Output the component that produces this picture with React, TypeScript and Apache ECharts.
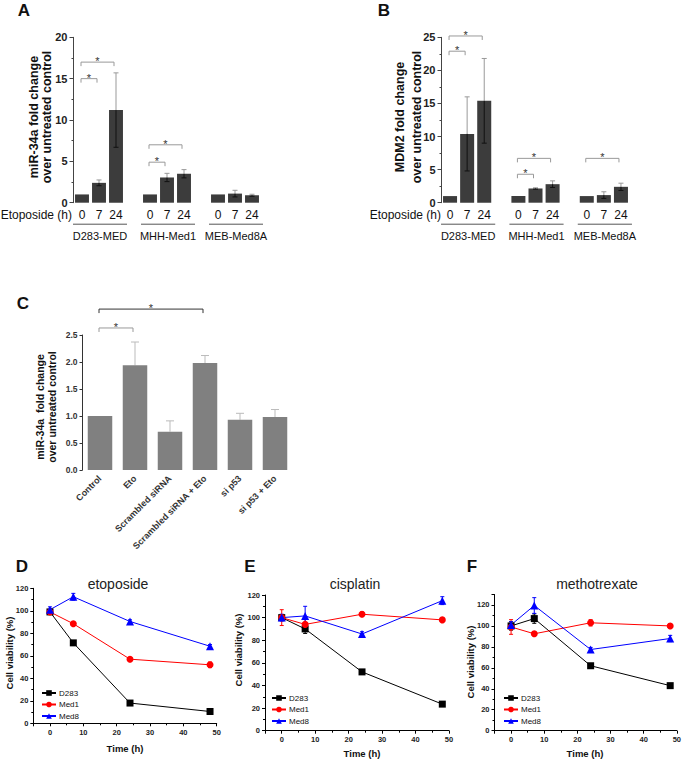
import React, { useEffect, useRef } from "react";
import * as echarts from "echarts";

const FONT = "'Liberation Sans', Arial, Helvetica, sans-serif";

// ---------- Panels A / B ----------
const cellLines = ["D283-MED", "MHH-Med1", "MEB-Med8A"];
const etoTimes = ["0", "7", "24"];
const mir34aFold = [1, 2.4, 11.2, 1, 3.05, 3.5, 1, 1.1, 0.9];
const mir34aErr = [0, 0.35, 4.5, 0, 0.5, 0.5, 0, 0.4, 0.12];
const mdm2Fold = [1, 10.4, 15.4, 1, 2.15, 2.8, 1, 1.15, 2.4];
const mdm2Err = [0, 5.6, 6.4, 0, 0.1, 0.5, 0, 0.5, 0.55];
// significance brackets: [from bar, to bar, level]
const mir34aSig = [[0, 1, 15], [0, 2, 17], [3, 4, 4.9], [3, 5, 7]];
const mdm2Sig = [[0, 1, 22.9], [0, 2, 25.2], [3, 4, 4.3], [3, 5, 6.7], [6, 8, 6.7]];

// ---------- Panel C ----------
const siCategories = ["Control", "Eto", "Scrambled siRNA", "Scrambled siRNA + Eto", "si p53", "si p53 + Eto"];
const siFold = [1.0, 1.94, 0.71, 1.98, 0.93, 0.98];
const siErr = [0, 0.43, 0.2, 0.14, 0.12, 0.14];
const siSig = [[0, 1, 2.63], [0, 3, 2.98]];

// ---------- Panels D / E / F ----------
const timeH = [0, 7, 24, 48];
const lineNames = ["D283", "Med1", "Med8"];
const drugTitles = ["etoposide", "cisplatin", "methotrexate"];
const etoD283 = [99, 71.5, 18, 10.5];
const etoD283Err = [2, 2, 1.5, 1.5];
const etoMed1 = [99, 88.5, 57, 52];
const etoMed1Err = [2, 1.5, 1.5, 2.5];
const etoMed8 = [101, 112.5, 90.5, 68.5];
const etoMed8Err = [2.5, 3, 1.5, 1.5];
const cisD283 = [100, 90, 52, 23.5];
const cisD283Err = [2, 4, 1.5, 1.5];
const cisMed1 = [100, 94, 103, 98];
const cisMed1Err = [7, 5, 2, 1.5];
const cisMed8 = [100, 101.5, 85.5, 115];
const cisMed8Err = [3, 8.5, 2, 3.5];
const mtxD283 = [100, 107, 62, 43];
const mtxD283Err = [4, 4.5, 1.5, 1.5];
const mtxMed1 = [99, 92.5, 103, 100];
const mtxMed1Err = [7, 2, 3, 2];
const mtxMed8 = [101, 119.5, 77.5, 88];
const mtxMed8Err = [3, 7.5, 2, 3];

const viability = [
  [etoD283, etoMed1, etoMed8],
  [cisD283, cisMed1, cisMed8],
  [mtxD283, mtxMed1, mtxMed8],
];
const viabilityErr = [
  [etoD283Err, etoMed1Err, etoMed8Err],
  [cisD283Err, cisMed1Err, cisMed8Err],
  [mtxD283Err, mtxMed1Err, mtxMed8Err],
];
const lineColors = ["#000000", "#ff0000", "#0000ff"];
const lineSymbols = ["rect", "circle", "triangle"];
const lineSymbolSizes = [7, 7, 8];

// bar index (0..8) -> category slot (with gap slots between groups)
const slotOf = (i: number) => i + Math.floor(i / 3);
const slotCats: string[] = [];
cellLines.forEach((g, gi) => {
  etoTimes.forEach((t) => slotCats.push(`${g}|${t}`));
  if (gi < cellLines.length - 1) slotCats.push(`gap${gi}`);
});
const toSlots = (vals: number[]) => {
  const out: any[] = slotCats.map(() => "-");
  vals.forEach((v, i) => (out[slotOf(i)] = v));
  return out;
};

function errBarRender(upper: string, lower: string, cap: number, drawLower: boolean) {
  return (params: any, api: any) => {
    const x = api.value(0);
    const v = api.value(1);
    const e = api.value(2);
    if (!e) return { type: "group", children: [] };
    const pTop = api.coord([x, v + e]);
    const pMid = api.coord([x, v]);
    const pBot = api.coord([x, v - e]);
    const children: any[] = [
      { type: "line", shape: { x1: pMid[0], y1: pMid[1], x2: pTop[0], y2: pTop[1] }, style: { stroke: upper, lineWidth: 1 } },
      { type: "line", shape: { x1: pTop[0] - cap, y1: pTop[1], x2: pTop[0] + cap, y2: pTop[1] }, style: { stroke: upper, lineWidth: 1 } },
    ];
    if (drawLower) {
      children.push(
        { type: "line", shape: { x1: pMid[0], y1: pMid[1], x2: pBot[0], y2: pBot[1] }, style: { stroke: lower, lineWidth: 1 } },
        { type: "line", shape: { x1: pBot[0] - cap, y1: pBot[1], x2: pBot[0] + cap, y2: pBot[1] }, style: { stroke: lower, lineWidth: 1 } }
      );
    }
    return { type: "group", children };
  };
}

function sigRender(colors: string[], starSize: number) {
  return (params: any, api: any) => {
    const a = api.coord([api.value(0), api.value(2)]);
    const b = api.coord([api.value(1), api.value(2)]);
    const x1 = a[0] - 1;
    const x2 = b[0] - 2;
    const y = a[1];
    const col = colors[params.dataIndex] || colors[0];
    return {
      type: "group",
      children: [
        { type: "polyline", shape: { points: [[x1, y + 4], [x1, y], [x2, y], [x2, y + 4]] }, style: { stroke: col, lineWidth: 1, fill: "none" } },
        {
          type: "text",
          style: {
            text: "*", x: (x1 + x2) / 2, y: y - 1, fill: "#333",
            font: `${starSize}px ${FONT}`, align: "center", verticalAlign: "middle",
          },
        },
      ],
    };
  };
}

function groupLabelRender(params: any, api: any) {
  const a = api.coord([api.value(0), 0]);
  const b = api.coord([api.value(1), 0]);
  const x1 = a[0] - 9;
  const x2 = b[0] + 11;
  const y = a[1] + 21.5;
  return {
    type: "group",
    children: [
      { type: "line", shape: { x1, y1: y, x2, y2: y }, style: { stroke: "#555", lineWidth: 1 } },
      {
        type: "text",
        style: {
          text: cellLines[api.value(2)], x: (x1 + x2) / 2, y: y + 12, fill: "#111",
          font: `11px ${FONT}`, align: "center", verticalAlign: "middle",
        },
      },
    ],
  };
}

const groupLabelData = cellLines.map((g, gi) => [slotOf(gi * 3), slotOf(gi * 3 + 2), gi]);

function makeOption() {
  const grids = [
    { left: 73.5, top: 37.3, width: 187, height: 165.4 },
    { left: 441.5, top: 37.3, width: 188, height: 165.4 },
    { left: 82.5, top: 335, width: 210, height: 135 },
    { left: 33.3, top: 588.3, width: 183.4, height: 135 },
    { left: 265, top: 595, width: 184, height: 135.7 },
    { left: 494.5, top: 594.5, width: 183.2, height: 136.2 },
  ];

  const abX = (gi: number) => ({
    gridIndex: gi,
    type: "category",
    data: slotCats,
    axisLine: { show: false },
    axisTick: { show: false },
    axisLabel: {
      interval: 0,
      margin: 6,
      fontFamily: FONT,
      fontSize: 12,
      color: "#111",
      formatter: (v: string) => (v.includes("|") ? v.split("|")[1] : ""),
    },
  });
  const abY = (gi: number, max: number) => ({
    gridIndex: gi,
    type: "value",
    min: 0,
    max,
    interval: 5,
    axisLine: { show: true, onZero: false, lineStyle: { color: "#444" } },
    axisTick: { show: true, length: 4, lineStyle: { color: "#444" } },
    minorTick: { show: true, splitNumber: 2, length: 2, lineStyle: { color: "#444" } },
    splitLine: { show: false },
    axisLabel: { fontFamily: FONT, fontWeight: "bold", fontSize: 11, color: "#222", margin: 6 },
  });

  const xAxis: any[] = [abX(0), abX(1)];
  const yAxis: any[] = [abY(0, 20), abY(1, 25)];

  xAxis.push({
    gridIndex: 2,
    type: "category",
    data: siCategories,
    axisLine: { show: false },
    axisTick: { show: false },
    axisLabel: { interval: 0, rotate: 45, margin: 7, fontFamily: FONT, fontWeight: "bold", fontSize: 9, color: "#333" },
  });
  yAxis.push({
    gridIndex: 2,
    type: "value",
    min: 0,
    max: 2.5,
    interval: 0.5,
    axisLine: { show: true, onZero: false, lineStyle: { color: "#333" } },
    axisTick: { show: true, length: 3, lineStyle: { color: "#333" } },
    splitLine: { show: false },
    axisLabel: { fontFamily: FONT, fontWeight: "bold", fontSize: 8.5, color: "#333", margin: 5, formatter: (v: number) => v.toFixed(1) },
  });

  for (let p = 0; p < 3; p++) {
    const gi = 3 + p;
    const yMax = p === 2 ? 130 : 120;
    xAxis.push({
      gridIndex: gi,
      type: "value",
      min: -5,
      max: 50,
      splitNumber: 5,
      axisLine: { show: true, onZero: false, lineStyle: { color: "#000" } },
      axisTick: { show: true, length: 3, lineStyle: { color: "#000" } },
      minorTick: { show: true, splitNumber: 2, length: 2, lineStyle: { color: "#000" } },
      splitLine: { show: false },
      axisLabel: {
        fontFamily: FONT, fontWeight: "bold", fontSize: 7.5, color: "#222", margin: 5,
        formatter: (v: number) => (v < 0 ? "" : String(v)),
      },
    });
    yAxis.push({
      gridIndex: gi,
      type: "value",
      min: 0,
      max: yMax,
      interval: 20,
      axisLine: { show: true, onZero: false, lineStyle: { color: "#000" } },
      axisTick: { show: true, length: 3, lineStyle: { color: "#000" } },
      minorTick: { show: true, splitNumber: 2, length: 2, lineStyle: { color: "#000" } },
      splitLine: { show: false },
      axisLabel: {
        fontFamily: FONT, fontWeight: "bold", fontSize: 7.5, color: "#222", margin: 5,
        formatter: (v: number) => (v > 120 ? "" : String(v)),
      },
    });
  }

  const series: any[] = [];
  // A & B
  const abSets = [
    { vals: mir34aFold, errs: mir34aErr, sig: mir34aSig },
    { vals: mdm2Fold, errs: mdm2Err, sig: mdm2Sig },
  ];
  abSets.forEach((s, gi) => {
    series.push({
      type: "bar",
      name: gi === 0 ? "miR-34a" : "MDM2",
      xAxisIndex: gi,
      yAxisIndex: gi,
      data: toSlots(s.vals),
      barCategoryGap: "18%",
      itemStyle: { color: "#3c3c3c" },
      z: 2,
    });
    series.push({
      type: "custom",
      name: "err" + gi,
      xAxisIndex: gi,
      yAxisIndex: gi,
      clip: false,
      z: 3,
      encode: { x: 0, y: 1 },
      data: s.vals.map((v, i) => [slotOf(i), v, s.errs[i]]),
      renderItem: errBarRender("#999", "#111", 2.5, true),
    });
    series.push({
      type: "custom",
      name: "sig" + gi,
      xAxisIndex: gi,
      yAxisIndex: gi,
      clip: false,
      z: 3,
      encode: { x: [0, 1], y: 2 },
      data: s.sig.map((d) => [slotOf(d[0]), slotOf(d[1]), d[2]]),
      renderItem: sigRender(["#999"], 11),
    });
    series.push({
      type: "custom",
      name: "groups" + gi,
      xAxisIndex: gi,
      yAxisIndex: gi,
      clip: false,
      z: 3,
      encode: { x: [0, 1] },
      data: groupLabelData,
      renderItem: groupLabelRender,
    });
  });

  // C
  series.push({
    type: "bar",
    name: "siRNA",
    xAxisIndex: 2,
    yAxisIndex: 2,
    data: siFold,
    barCategoryGap: "30%",
    itemStyle: { color: "#808080" },
    z: 2,
  });
  series.push({
    type: "custom",
    name: "errC",
    xAxisIndex: 2,
    yAxisIndex: 2,
    clip: false,
    z: 1,
    encode: { x: 0, y: 1 },
    data: siFold.map((v, i) => [i, v, siErr[i]]),
    renderItem: errBarRender("#bbb", "#bbb", 4, false),
  });
  series.push({
    type: "custom",
    name: "sigC",
    xAxisIndex: 2,
    yAxisIndex: 2,
    clip: false,
    z: 3,
    encode: { x: [0, 1], y: 2 },
    data: siSig,
    renderItem: sigRender(["#999", "#333"], 11),
  });

  // D-F
  for (let p = 0; p < 3; p++) {
    const gi = 3 + p;
    for (let k = 0; k < 3; k++) {
      series.push({
        type: "custom",
        name: "err" + lineNames[k],
        xAxisIndex: gi,
        yAxisIndex: gi,
        clip: false,
        z: 2,
        encode: { x: 0, y: 1 },
        data: timeH.map((t, i) => [t, viability[p][k][i], viabilityErr[p][k][i]]),
        renderItem: errBarRender(lineColors[k], lineColors[k], 2, true),
      });
      series.push({
        type: "line",
        name: lineNames[k],
        xAxisIndex: gi,
        yAxisIndex: gi,
        z: 3,
        data: timeH.map((t, i) => [t, viability[p][k][i]]),
        symbol: lineSymbols[k],
        symbolSize: lineSymbolSizes[k],
        showSymbol: true,
        itemStyle: { color: lineColors[k] },
        lineStyle: { color: lineColors[k], width: 1 },
      });
    }
  }

  const legendPos = [
    { left: 41, top: 688 },
    { left: 271, top: 693 },
    { left: 503, top: 693 },
  ];
  const legend = legendPos.map((pos) => ({
    orient: "vertical",
    left: pos.left,
    top: pos.top,
    padding: 0,
    itemWidth: 14,
    itemHeight: 7,
    itemGap: 1.5,
    selectedMode: false,
    data: lineNames,
    textStyle: { fontFamily: FONT, fontSize: 8, color: "#111", lineHeight: 10, padding: [0, 0, 0, -2] },
  }));

  const txt = (text: string, x: number, y: number, font: string, extra: any = {}) => ({
    type: "text",
    x,
    y,
    rotation: extra.rotation || 0,
    style: {
      text,
      font,
      fill: extra.fill || "#111",
      textAlign: extra.align || "center",
      textVerticalAlign: "middle",
      lineHeight: extra.lineHeight,
    },
  });
  const R = Math.PI / 2;
  const graphic: any[] = [
    txt("A", 24, 10, `bold 17px ${FONT}`),
    txt("B", 384, 10, `bold 17px ${FONT}`),
    txt("C", 23, 303, `bold 17px ${FONT}`),
    txt("D", 22, 566, `bold 17px ${FONT}`),
    txt("E", 250, 566, `bold 17px ${FONT}`),
    txt("F", 472, 566, `bold 17px ${FONT}`),
    txt("miR-34a fold change\nover untreated control", 40, 117, `bold 12.5px ${FONT}`, { rotation: R, lineHeight: 13 }),
    txt("MDM2 fold change\nover untreated control", 408, 117, `bold 12.5px ${FONT}`, { rotation: R, lineHeight: 17 }),
    txt("miR-34a  fold change\nover untreated control", 45.5, 407, `bold 10.5px ${FONT}`, { rotation: R, lineHeight: 12 }),
    txt("Etoposide (h)", 72, 214.5, `12px ${FONT}`, { align: "right" }),
    txt("Etoposide (h)", 441, 214.5, `12px ${FONT}`, { align: "right" }),
    txt(drugTitles[0], 118, 584, `14px ${FONT}`, { fill: "#222" }),
    txt(drugTitles[1], 355, 584, `14px ${FONT}`, { fill: "#222" }),
    txt(drugTitles[2], 597, 584, `14px ${FONT}`, { fill: "#222" }),
    txt("Cell viability (%)", 9, 653, `bold 9.5px ${FONT}`, { rotation: R }),
    txt("Cell viability (%)", 238, 650, `bold 9.5px ${FONT}`, { rotation: R }),
    txt("Cell viability (%)", 470, 662, `bold 9.5px ${FONT}`, { rotation: R }),
    txt("Time (h)", 125, 748, `bold 9.5px ${FONT}`),
    txt("Time (h)", 362, 753, `bold 9.5px ${FONT}`),
    txt("Time (h)", 585, 753, `bold 9.5px ${FONT}`),
  ];

  return {
    animation: false,
    backgroundColor: "#ffffff",
    textStyle: { fontFamily: FONT },
    grid: grids,
    xAxis,
    yAxis,
    legend,
    series,
    graphic,
  };
}

export default function App() {
  const ref = useRef<HTMLDivElement>(null);
  useEffect(() => {
    if (!ref.current) return;
    const chart = echarts.init(ref.current, undefined, { renderer: "svg" });
    chart.setOption(makeOption() as any);
    return () => chart.dispose();
  }, []);
  return (
    <div
      ref={ref}
      style={{ position: "absolute", left: 0, top: 0, width: 684, height: 761, background: "#fff" }}
    />
  );
}
